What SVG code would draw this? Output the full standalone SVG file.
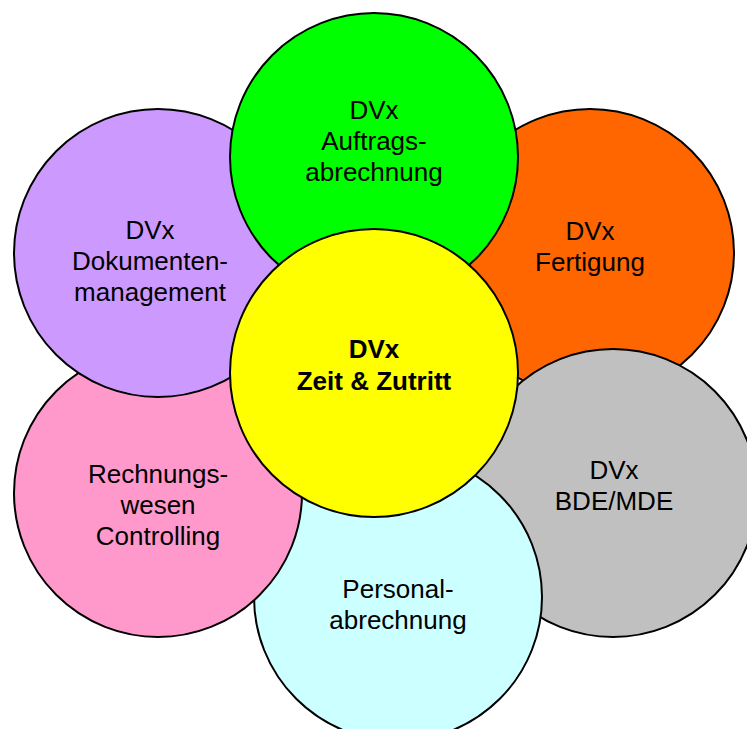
<svg xmlns="http://www.w3.org/2000/svg" width="747" height="729" viewBox="0 0 747 729">
<style>
circle{stroke:#000;stroke-width:2}
text{font-family:"Liberation Sans",Arial,sans-serif;font-size:26px;fill:#000;text-anchor:middle}
.b{font-weight:bold}
</style>
<rect width="747" height="729" fill="#fff"/>
<g id="fertigung"><circle cx="590" cy="253" r="144" fill="#FF6600"/><text x="590" y="240">DVx</text><text x="590" y="271">Fertigung</text></g>
<g id="bde"><circle cx="613" cy="493" r="144" fill="#C0C0C0"/><text x="614" y="479">DVx</text><text x="614" y="510">BDE/MDE</text></g>
<g id="personal"><circle cx="398" cy="597" r="144" fill="#CCFFFF"/><text x="398" y="598">Personal-</text><text x="398" y="629">abrechnung</text></g>
<g id="rechnungswesen"><circle cx="158" cy="493" r="144" fill="#FF99CC"/><text x="158" y="483">Rechnungs-</text><text x="158" y="514">wesen</text><text x="158" y="545">Controlling</text></g>
<g id="dokumente"><circle cx="158" cy="253" r="144" fill="#CC99FF"/><text x="150" y="239">DVx</text><text x="150" y="270">Dokumenten-</text><text x="150" y="301">management</text></g>
<g id="auftrag"><circle cx="374" cy="157" r="144" fill="#00FF00"/><text x="374" y="119">DVx</text><text x="374" y="150">Auftrags-</text><text x="374" y="181">abrechnung</text></g>
<g id="zeit"><circle cx="374" cy="373" r="144" fill="#FFFF00"/><text class="b" x="374" y="358">DVx</text><text class="b" x="374" y="390">Zeit &amp; Zutritt</text></g>
<g id="connectors"/>
</svg>
